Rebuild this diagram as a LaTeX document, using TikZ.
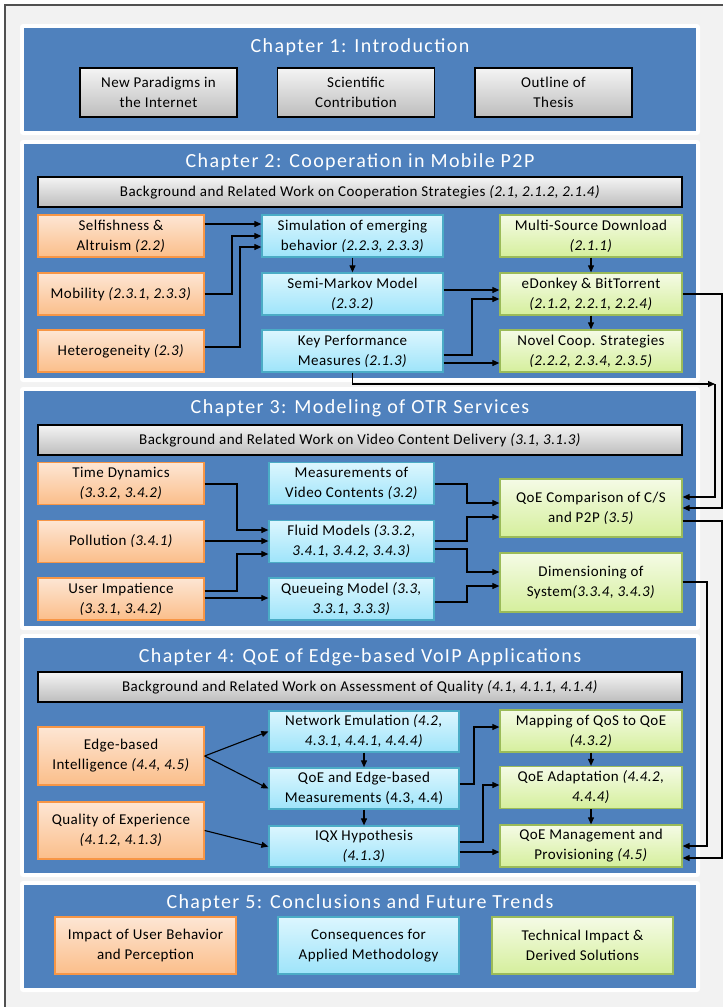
\documentclass[tikz,border=0pt]{standalone}
\usepackage{fontspec}
\setmainfont[LetterSpace=3]{Carlito}
\newfontfamily\titlefont[LetterSpace=7]{Carlito}
\usetikzlibrary{arrows.meta}
\definecolor{panelblue}{HTML}{4F81BD}
\definecolor{framegray}{HTML}{F2F2F2}
\definecolor{framedark}{HTML}{505050}
\definecolor{oline}{HTML}{F79646}
\definecolor{otop}{HTML}{FDE6D4}
\definecolor{obot}{HTML}{FBBE8A}
\definecolor{bline}{HTML}{4BACC6}
\definecolor{btop}{HTML}{DCF6FE}
\definecolor{bbot}{HTML}{9EE4FA}
\definecolor{gline}{HTML}{9BBB59}
\definecolor{gtop}{HTML}{F5FBE6}
\definecolor{gbot}{HTML}{D5EF9C}
\definecolor{graytop}{HTML}{F4F4F4}
\definecolor{graybot}{HTML}{BDBDBD}
\begin{document}
\begin{tikzpicture}[x=1pt,y=-1pt,
  txt/.style={font=\fontsize{15}{20}\selectfont, align=center, inner sep=0pt, text=black},
  boxbase/.style={txt, line width=1.3pt, minimum height=42pt},
  obox/.style={boxbase, draw=oline, top color=otop, bottom color=obot},
  bbox/.style={boxbase, draw=bline, top color=btop, bottom color=bbot},
  gbox/.style={boxbase, draw=gline, top color=gtop, bottom color=gbot},
  graybox/.style={boxbase, draw=black, top color=graytop, bottom color=graybot},
  barbox/.style={graybox, minimum width=644pt, minimum height=30pt, line width=1.5pt},
  chtitle/.style={font=\titlefont\fontsize{20}{24}\selectfont, text=white, inner sep=0pt},
  arr/.style={-{Triangle[length=7pt,width=6pt]}, line width=1.1pt, draw=black}
]
\clip (0,0) rectangle (723,1007);
\fill[white] (0,0) rectangle (723,1007);
\draw[fill=framegray, draw=framedark, line width=1.5pt] (5,5) rectangle (780,1050);

% panels
\foreach \a/\b in {28/131, 144/378, 391/626, 638/873, 885/988}{
  \fill[white, rounded corners=3pt] (20,\a-4) rectangle (700,\b+4);
  \fill[panelblue] (24,\a) rectangle (696,\b);
}

% ---------- Chapter 1
\node[chtitle] (t1) at (360,47) {Chapter 1: Introduction};
\node[graybox, minimum width=157pt, minimum height=49pt] (c1a) at (158.5,92.5) {New Paradigms in\\the Internet};
\node[graybox, minimum width=157pt, minimum height=49pt] (c1b) at (356,92.5) {Scientific\\Contribution};
\node[graybox, minimum width=157pt, minimum height=49pt] (c1c) at (553.5,92.5) {Outline of\\Thesis};

% ---------- Chapter 2
\node[chtitle] (t2) at (360,162) {Chapter 2: Cooperation in Mobile P2P};
\node[barbox] (bar2) at (360,192) {Background and Related Work on Cooperation Strategies \textit{(2.1, 2.1.2, 2.1.4)}};
\node[obox, minimum width=166pt] (self) at (121,236) {Selfishness \&\\Altruism \textit{(2.2)}};
\node[obox, minimum width=166pt] (mob) at (121,294) {Mobility \textit{(2.3.1, 2.3.3)}};
\node[obox, minimum width=166pt] (het) at (121,351) {Heterogeneity \textit{(2.3)}};
\node[bbox, minimum width=181pt] (sim) at (352.5,236) {Simulation of emerging\\behavior \textit{(2.2.3, 2.3.3)}};
\node[bbox, minimum width=181pt] (semi) at (352.5,294) {Semi-Markov Model\\\textit{(2.3.2)}};
\node[bbox, minimum width=181pt] (key) at (352.5,351) {Key Performance\\Measures \textit{(2.1.3)}};
\node[gbox, minimum width=182pt] (multi) at (591,236) {Multi-Source Download\\\textit{(2.1.1)}};
\node[gbox, minimum width=182pt] (edon) at (591,294) {eDonkey \& BitTorrent\\\textit{(2.1.2, 2.2.1, 2.2.4)}};
\node[gbox, minimum width=182pt] (novel) at (591,351) {Novel Coop. Strategies\\\textit{(2.2.2, 2.3.4, 2.3.5)}};

\draw[arr] (self.east |- 0,224) -- (sim.west |- 0,224);
\draw[arr] (mob.east |- 0,294) -| (232,236) -- (sim.west |- 0,236);
\draw[arr] (het.east |- 0,347) -| (240,247) -- (sim.west |- 0,247);
\draw[arr] (sim.south) -- (semi.north);
\draw[arr] (semi.east |- 0,290) -- (edon.west |- 0,290);
\draw[arr] (key.east |- 0,355) -| (472,299) -- (edon.west |- 0,299);
\draw[arr] (key.east |- 0,363) -- (novel.west |- 0,363);
\draw[arr] (multi.south) -- (edon.north);
\draw[arr] (edon.south) -- (novel.north);

% ---------- Chapter 3
\node[chtitle] (t3) at (360,408) {Chapter 3: Modeling of OTR Services};
\node[barbox] (bar3) at (360,440) {Background and Related Work on Video Content Delivery \textit{(3.1, 3.1.3)}};
\node[obox, minimum width=166pt] (time) at (121,483.5) {Time Dynamics\\\textit{(3.3.2, 3.4.2)}};
\node[obox, minimum width=166pt] (poll) at (121,541.5) {Pollution \textit{(3.4.1)}};
\node[obox, minimum width=166pt] (imp) at (121,599) {User Impatience\\\textit{(3.3.1, 3.4.2)}};
\node[bbox, minimum width=165pt] (meas) at (351.5,483.5) {Measurements of\\Video Contents \textit{(3.2)}};
\node[bbox, minimum width=165pt] (fluid) at (351.5,541.5) {Fluid Models \textit{(3.3.2,}\\\textit{3.4.1, 3.4.2, 3.4.3)}};
\node[bbox, minimum width=165pt] (queue) at (351.5,599) {Queueing Model \textit{(3.3,}\\\textit{3.3.1, 3.3.3)}};
\node[gbox, minimum width=182pt, minimum height=58pt] (qoec) at (591,508) {QoE Comparison of C/S\\and P2P \textit{(3.5)}};
\node[gbox, minimum width=182pt, minimum height=59pt] (dim) at (591,582.5) {Dimensioning of\\System\textit{(3.3.4, 3.4.3)}};

\draw[arr] (time.east |- 0,484) -| (237,530) -- (fluid.west |- 0,530);
\draw[arr] (poll.east |- 0,541) -- (fluid.west |- 0,541);
\draw[arr] (imp.east |- 0,591) -| (237,554) -- (fluid.west |- 0,554);
\draw[arr] (imp.east |- 0,598) -- (queue.west |- 0,598);
\draw[arr] (meas.east |- 0,484) -| (467,503) -- (qoec.west |- 0,503);
\draw[arr] (fluid.east |- 0,541) -| (467,517) -- (qoec.west |- 0,517);
\draw[arr] (fluid.east |- 0,549) -| (467,572) -- (dim.west |- 0,572);
\draw[arr] (queue.east |- 0,602) -| (467,586) -- (dim.west |- 0,586);

% ---------- Chapter 4
\node[chtitle] (t4) at (360,657) {Chapter 4: QoE of Edge-based VoIP Applications};
\node[barbox] (bar4) at (360,687) {Background and Related Work on Assessment of Quality \textit{(4.1, 4.1.1, 4.1.4)}};
\node[obox, minimum width=166pt, minimum height=58pt] (edge) at (121,756) {Edge-based\\Intelligence \textit{(4.4, 4.5)}};
\node[obox, minimum width=166pt, minimum height=57pt] (qexp) at (121,830.5) {Quality of Experience\\\textit{(4.1.2, 4.1.3)}};
\node[bbox, minimum width=190pt, minimum height=41pt] (netem) at (364,731.5) {Network Emulation \textit{(4.2,}\\\textit{4.3.1, 4.4.1, 4.4.4)}};
\node[bbox, minimum width=190pt, minimum height=41pt] (qedge) at (364,788.5) {QoE and Edge-based\\Measurements (4.3, 4.4)};
\node[bbox, minimum width=190pt, minimum height=41pt] (iqx) at (364,846.5) {IQX Hypothesis\\\textit{(4.1.3)}};
\node[gbox, minimum width=182pt] (map) at (591,731) {Mapping of QoS to QoE\\\textit{(4.3.2)}};
\node[gbox, minimum width=182pt] (adapt) at (591,787.5) {QoE Adaptation \textit{(4.4.2,}\\\textit{4.4.4)}};
\node[gbox, minimum width=182pt] (mgmt) at (591,846) {QoE Management and\\Provisioning \textit{(4.5)}};

\draw[arr] (edge.east) -- (netem.west);
\draw[arr] (edge.east) -- (qedge.west);
\draw[arr] (qexp.east) -- (iqx.west);
\draw[arr] (netem.south) -- (qedge.north);
\draw[arr] (qedge.south) -- (iqx.north);
\draw[arr] (qedge.east |- 0,784) -| (474,727) -- (map.west |- 0,727);
\draw[arr] (iqx.east |- 0,842) -| (483,785) -- (adapt.west |- 0,785);
\draw[arr] (iqx.east |- 0,852) -- (mgmt.west |- 0,852);
\draw[arr] (map.south) -- (adapt.north);
\draw[arr] (adapt.south) -- (mgmt.north);

% ---------- cross-chapter connectors
\coordinate (k1) at (715,384);
\draw[arr] (key.south) |- (k1);
\draw[arr] (k1) |- (qoec.east |- 0,497);
\draw[arr] (edon.east |- 0,294) -| (722,508) -- (qoec.east |- 0,508);
\draw[arr] (qoec.east |- 0,521) -| (722,858) -- (mgmt.east |- 0,858);
\draw[arr] (dim.east |- 0,582) -| (707,846) -- (mgmt.east |- 0,846);

% ---------- Chapter 5
\node[chtitle] (t5) at (360,903) {Chapter 5: Conclusions and Future Trends};
\node[obox, minimum width=181pt, minimum height=57pt] (c5a) at (145.5,945.5) {Impact of User Behavior\\and Perception};
\node[bbox, minimum width=181pt, minimum height=57pt] (c5b) at (368.5,945.5) {Consequences for\\Applied Methodology};
\node[gbox, minimum width=181pt, minimum height=57pt] (c5c) at (582.5,945.5) {Technical Impact \&\\Derived Solutions};
\end{tikzpicture}
\end{document}
